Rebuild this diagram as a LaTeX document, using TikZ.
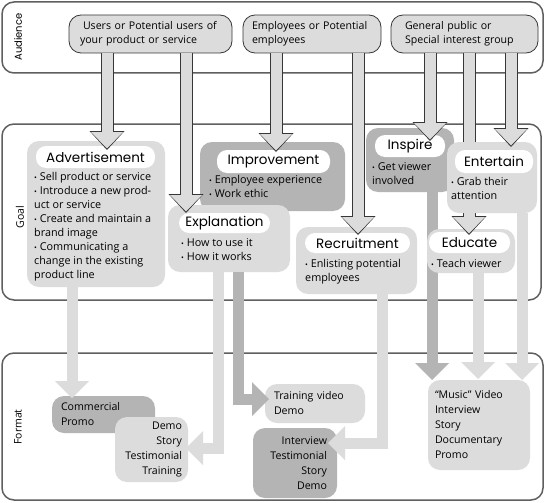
\documentclass[tikz,border=0pt]{standalone}
\usepackage{fontspec}
\setmainfont{Open Sans}
\newfontfamily\titlefont{Poppins}
\usepackage{tikz}
\usetikzlibrary{positioning}
\usetikzlibrary{arrows.meta, calc}

\definecolor{boxlight}{RGB}{220,220,220}
\definecolor{boxdark}{RGB}{180,180,180}
\definecolor{frame}{RGB}{95,95,95}
\definecolor{edge}{RGB}{55,55,55}

\newcommand{\dotitem}{{\fontsize{7.5}{7.5}\selectfont•}\ }

\tikzstyle{panel} = [draw=frame, line width=1.5pt, rounded corners=12pt, inner sep=0pt]
\tikzstyle{audbox} = [draw=edge, line width=0.8pt, fill=boxlight, rounded corners=12pt, align=left, inner ysep=0pt, font=\fontsize{10.6}{14}\selectfont]
\tikzstyle{goalbox} = [rounded corners=12pt, inner sep=0pt]
\tikzstyle{pill} = [fill=white, rounded corners=10pt, inner sep=0pt, font=\titlefont\fontsize{13.5}{15}\selectfont]
\tikzstyle{bullets} = [anchor=north west, inner sep=0pt, align=left, font=\fontsize{10.8}{14}\selectfont]
\tikzstyle{fmtbox} = [rounded corners=12pt, inner ysep=0pt, font=\fontsize{10.6}{15}\selectfont]
\tikzstyle{flow} = [line width=11pt, -{Triangle[width=34pt, length=17pt, line width=0pt]}]
\tikzstyle{feed} = [line width=11pt, draw=boxlight, -{Triangle[width=32pt, length=16.5pt, line width=0pt]}, shorten >=1.5pt,
	preaction={draw=edge, line width=13pt, -{Triangle[width=35pt, length=19pt, line width=0pt]}, shorten >=0pt}]

\begin{document}
\begin{tikzpicture}[x=1pt, y=-1pt,
			sidelabel/.style = {rotate=90, inner sep=0pt, font=\fontsize{10.5}{12}\selectfont}
		]
		\useasboundingbox[fill=white] (0,0) rectangle (546,503);

		% Panels
		\node[panel, minimum width=541pt, minimum height=71pt] (Audience) at (272.5,37.5) {};
		\node[panel, minimum width=539pt, minimum height=176pt] (Goal) at (271.5,212) {};
		\node[panel, minimum width=541pt, minimum height=147pt] (Format) at (272.5,426.5) {};
		\node[sidelabel, font=\titlefont\fontsize{10}{12}\selectfont] (Audience_l) at (18,37) {Audience};
		\node[sidelabel] (Goal_l) at (20,217) {Goal};
		\node[sidelabel] (Format_l) at (18,427) {Format};

		% Audience
		\node[audbox, minimum width=163pt, minimum height=38pt, text width=141pt, inner xsep=11pt] (Users) at (150.5,34) {\hspace*{3pt}Users or Potential users of\\your product or service};
		\node[audbox, minimum width=138pt, minimum height=38pt, text width=120pt, inner xsep=9pt] (Staff) at (312,34) {Employees or Potential\\employees};
		\node[audbox, minimum width=147pt, minimum height=38pt, text width=119pt, inner xsep=14pt] (Public) at (464.5,34) {General public or\\Special interest group};

		% Formats
		\node[fmtbox, fill=boxdark, minimum width=103pt, minimum height=37pt, text width=85pt, inner xsep=9pt, align=left] (Commercial) at (103.5,414.5) {Commercial\\Promo};
		\node[fmtbox, fill=boxlight, minimum width=73pt, minimum height=65pt, text width=61pt, inner xsep=6pt, align=right] (Demos) at (151.5,449.5) {Demo\\Story\\Testimonial\\Training};
		\node[fmtbox, fill=boxlight, minimum width=100pt, minimum height=39pt, text width=82pt, inner xsep=9pt, align=left] (TrainVid) at (315,403.5) {Training video\\Demo};
		\node[fmtbox, fill=boxdark, minimum width=84pt, minimum height=70pt, text width=64pt, inner xsep=10pt, align=right] (Interview) at (295,463) {Interview\\Testimonial\\Story\\Demo};
		\node[fmtbox, fill=boxlight, minimum width=102pt, minimum height=90pt, text width=88pt, inner xsep=7pt, align=left] (Music) at (479,425) {“Music” Video\\Interview\\Story\\Documentary\\Promo};

		% Goals
		\node[goalbox, fill=boxlight, minimum width=138pt, minimum height=146pt] (Advert) at (96,214) {};
		\node[goalbox, fill=boxdark, minimum width=145pt, minimum height=69pt] (Improve) at (272.5,176.5) {};
		\node[goalbox, fill=boxlight, minimum width=122pt, minimum height=67pt] (Explain) at (229,238.5) {};
		\node[goalbox, fill=boxlight, minimum width=121pt, minimum height=67pt] (Recruit) at (356.5,260.5) {};
		\node[goalbox, fill=boxdark, minimum width=88pt, minimum height=64pt] (Inspire) at (410,160) {};

		% Goal -> Format
		\coordinate (Commercial_in) at (72,398);
		\coordinate (Demos_in) at (186,448);
		\coordinate (TrainVid_in) at (269,399);
		\coordinate (Interview_in) at (328,443);
		\coordinate (Music_in1) at (432,380);
		\coordinate (Music_in2) at (478,379);
		\coordinate (Music_in3) at (522,380);
		\draw[flow, draw=boxlight] (Advert.south -| Commercial_in) -- (Commercial_in);
		\draw[flow, draw=boxlight] ($(Explain.south)+(-11,0)$) |- (Demos_in);
		\draw[flow, draw=boxdark] ($(Explain.south)+(9,0)$) |- (TrainVid_in);
		\draw[flow, draw=boxlight] ($(Recruit.south)+(25.5,0)$) |- (Interview_in);
		\draw[flow, draw=boxdark] (Inspire.south -| Music_in1) -- (Music_in1);

		\node[goalbox, fill=boxlight, minimum width=88pt, minimum height=44pt] (Educate) at (471,251) {};
		\draw[flow, draw=boxlight] (Educate.south -| Music_in2) -- (Music_in2);

		% Titles and bullets
		\node[pill, minimum width=119pt, minimum height=22pt] (Advert_t) at (95.5,157) {Advertisement};
		\node[bullets] (Advert_b) at (34,172.5) {\dotitem Sell product or service\\\dotitem Introduce a new prod-\\uct or service\\\dotitem Create and maintain a\\brand image\\\dotitem Communicating a\\change in the existing\\product line};
		\node[pill, minimum width=113pt, minimum height=23pt] (Improve_t) at (273.5,161.5) {Improvement};
		\node[bullets] (Improve_b) at (209,175.5) {\dotitem Employee experience\\\dotitem Work ethic};
		\node[pill, minimum width=91pt, minimum height=20pt] (Explain_t) at (224.5,223) {Explanation};
		\node[bullets] (Explain_b) at (181,238.5) {\dotitem How to use it\\\dotitem How it works};
		\node[pill, minimum width=105pt, minimum height=20pt] (Recruit_t) at (357.5,243) {Recruitment};
		\node[bullets] (Recruit_b) at (305,259.5) {\dotitem Enlisting potential\\employees};
		\node[pill, minimum width=70pt, minimum height=22pt] (Inspire_t) at (410,146) {Inspire};
		\node[bullets] (Inspire_b) at (372,162.5) {\dotitem Get viewer\\involved};
		\node[pill, minimum width=81pt, minimum height=21pt] (Educate_t) at (469.5,242.5) {Educate};
		\node[bullets] (Educate_b) at (431,259.5) {\dotitem Teach viewer};

		% Audience -> Goal
		\coordinate (Advert_in) at (107,150);
		\coordinate (Explain_in) at (186,213);
		\coordinate (Improve_in) at (276,152);
		\coordinate (Recruit_in) at (358,235);
		\coordinate (Inspire_in) at (430,141);
		\coordinate (Educate_in) at (469,235);
		\coordinate (Entertain_in) at (511,147);
		\draw[feed] (Users.south -| Advert_in) -- (Advert_in);
		\draw[feed] (Users.south -| Explain_in) -- (Explain_in);
		\draw[feed] (Staff.south -| Improve_in) -- (Improve_in);
		\draw[feed] (Staff.south -| Recruit_in) -- (Recruit_in);
		\draw[feed] (Public.south -| Inspire_in) -- (Inspire_in);
		\draw[feed] (Public.south -| Educate_in) -- (Educate_in);

		% Entertain on top
		\node[goalbox, fill=boxlight, minimum width=90pt, minimum height=71pt] (Entertain) at (492,177.5) {};
		\draw[flow, draw=boxlight] (Entertain.south -| Music_in3) -- (Music_in3);
		\node[pill, minimum width=78pt, minimum height=23pt] (Entertain_t) at (494,161.5) {Entertain};
		\node[bullets] (Entertain_b) at (451,177.5) {\dotitem Grab their\\attention};
		\draw[feed] (Public.south -| Entertain_in) -- (Entertain_in);
	\end{tikzpicture}
\end{document}
